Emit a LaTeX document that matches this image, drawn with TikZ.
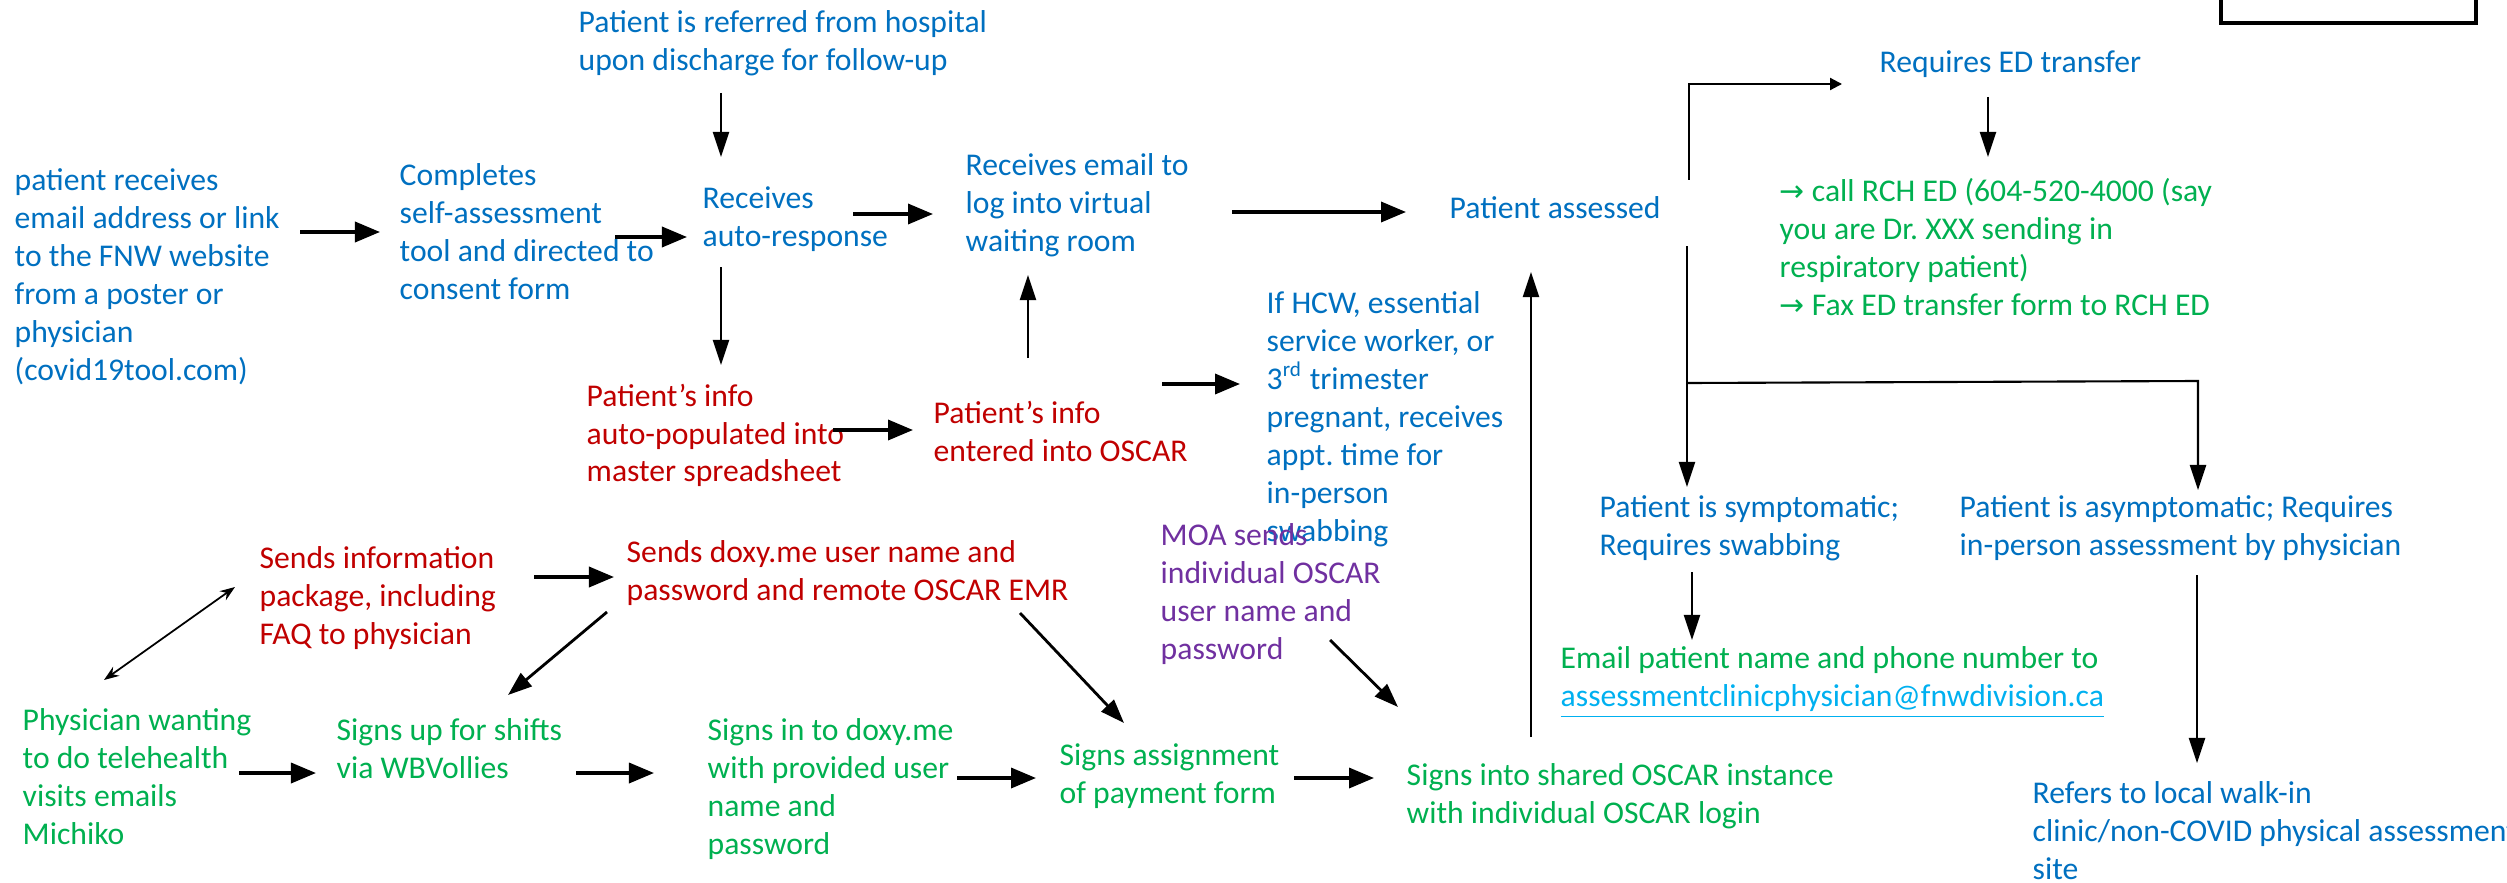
\documentclass[tikz,border=0pt]{standalone}
\usepackage{fontspec}
\setmainfont{Carlito}
\newfontfamily\arrowfont{DejaVu Sans}
\usetikzlibrary{arrows.meta}
\definecolor{tblue}{HTML}{0070C0}
\definecolor{tred}{HTML}{C00000}
\definecolor{tgreen}{HTML}{00B050}
\definecolor{tpurple}{HTML}{7030A0}
\definecolor{tlink}{HTML}{00B0F0}
\newcommand{\ra}{{\arrowfont\fontsize{8.5}{10.8}\selectfont →}}
\tikzset{
  txt/.style={inner sep=0pt, anchor=north west, align=left, yshift=-0.03cm, font=\fontsize{9}{10.8}\selectfont},
  bluet/.style={txt, text=tblue},
  redt/.style={txt, text=tred},
  greent/.style={txt, text=tgreen},
  purplet/.style={txt, text=tpurple},
  bigarrow/.style={line width=1pt, -{Triangle[length=0.25cm,width=0.2cm]}},
  midarrow/.style={line width=0.8pt, -{Triangle[length=0.24cm,width=0.17cm]}},
  thinarrow/.style={line width=0.6pt, -{Triangle[length=0.25cm,width=0.16cm]}},
  smallarrow/.style={line width=0.6pt, -{Triangle[length=0.12cm,width=0.12cm]}},
  dblarrow/.style={line width=0.5pt, {Stealth[length=0.15cm,width=0.11cm]}-{Stealth[length=0.15cm,width=0.11cm]}},
  plainline/.style={line width=0.6pt}
}
\begin{document}
\begin{tikzpicture}[x=0.01cm, y=-0.01cm]
\useasboundingbox (0,0) rectangle (2507,882);
\clip (0,0) rectangle (2507,882);

% top-right box
\draw[line width=1pt] (2221,-10) rectangle (2476,23);
\node[inner sep=0pt] (topbox) at (2348,5) {};

% text nodes
\node[bluet] (src) at (14,165) {patient receives\\email address or link\\to the FNW website\\from a poster or\\physician\\(covid19tool.com)};
\node[bluet] (selfassess) at (399,160) {Completes\\self-assessment\\tool and directed to\\consent form};
\node[bluet] (referred) at (578,7) {Patient is referred from hospital\\upon discharge for follow-up};
\node[bluet] (autoresp) at (702,183) {Receives\\auto-response};
\node[bluet] (waiting) at (965,150) {Receives email to\\log into virtual\\waiting room};
\node[redt] (populated) at (586,380) {Patient’s info\\auto-populated into\\master spreadsheet};
\node[redt] (entered) at (933,397) {Patient’s info\\entered into OSCAR};
\node[bluet] (hcw) at (1266,288) {If HCW, essential\\service worker, or\\3\textsuperscript{rd} trimester\\pregnant, receives\\appt.\ time for\\in-person\\swabbing};
\node[bluet] (assessed) at (1449,193) {Patient assessed};
\node[bluet] (edtransfer) at (1879,47) {Requires ED transfer};
\node[greent] (rch) at (1779,175) {\ra\ call RCH ED (604-520-4000 (say\\you are Dr.\ XXX sending in\\respiratory patient)\\\ra\ Fax ED transfer form to RCH ED};
\node[bluet] (symptomatic) at (1599,492) {Patient is symptomatic;\\Requires swabbing};
\node[bluet] (asymptomatic) at (1959,492) {Patient is asymptomatic; Requires\\in-person assessment by physician};
\node[greent] (emailpt) at (1560,643) {Email patient name and phone number to\\\textcolor{tlink}{\underline{assessmentclinicphysician@fnwdivision.ca}}};
\node[bluet] (walkin) at (2032,778) {Refers to local walk-in\\clinic/non-COVID physical assessment\\site};
\node[redt] (infopkg) at (259,543) {Sends information\\package, including\\FAQ to physician};
\node[redt] (doxysend) at (626,537) {Sends doxy.me user name and\\password and remote OSCAR EMR};
\node[purplet] (moa) at (1160,520) {MOA sends\\individual OSCAR\\user name and\\password};
\node[greent] (physician) at (22,705) {Physician wanting\\to do telehealth\\visits emails\\Michiko};
\node[greent] (shifts) at (336,715) {Signs up for shifts\\via WBVollies};
\node[greent] (doxyin) at (707,715) {Signs in to doxy.me\\with provided user\\name and\\password};
\node[greent] (payment) at (1059,740) {Signs assignment\\of payment form};
\node[greent] (shared) at (1406,760) {Signs into shared OSCAR instance\\with individual OSCAR login};

% connector end points
\coordinate (a1s) at (300,232);   \coordinate (a1e) at (380,232);
\coordinate (a2s) at (615,237);   \coordinate (a2e) at (687,237);
\coordinate (a3s) at (721,93);    \coordinate (a3e) at (721,157);
\coordinate (a4s) at (853,214);   \coordinate (a4e) at (933,214);
\coordinate (a5s) at (721,267);   \coordinate (a5e) at (721,365);
\coordinate (a6s) at (833,430);   \coordinate (a6e) at (913,430);
\coordinate (a7s) at (1028,358);  \coordinate (a7e) at (1028,275);
\coordinate (a8s) at (1232,212);  \coordinate (a8e) at (1406,212);
\coordinate (a9s) at (1162,384);  \coordinate (a9e) at (1240,384);
\coordinate (a10s) at (1689,180); \coordinate (a10m) at (1689,84); \coordinate (a10e) at (1842,84);
\coordinate (a11s) at (1988,97);  \coordinate (a11e) at (1988,157);
\coordinate (a12s) at (1687,246); \coordinate (a12e) at (1687,487);
\coordinate (b1s) at (1687,383);  \coordinate (b1m) at (2198,381); \coordinate (b1e) at (2198,490);
\coordinate (a13s) at (1692,572); \coordinate (a13e) at (1692,640);
\coordinate (a14s) at (2197,575); \coordinate (a14e) at (2197,763);
\coordinate (a15s) at (1531,737); \coordinate (a15e) at (1531,272);
\coordinate (a16s) at (1330,640); \coordinate (a16e) at (1398,707);
\coordinate (a17s) at (1294,778); \coordinate (a17e) at (1374,778);
\coordinate (a18s) at (1020,613); \coordinate (a18e) at (1124,723);
\coordinate (a19s) at (607,612);  \coordinate (a19e) at (508,695);
\coordinate (a20s) at (534,577);  \coordinate (a20e) at (614,577);
\coordinate (a21s) at (235,587);  \coordinate (a21e) at (104,680);
\coordinate (a22s) at (239,773);  \coordinate (a22e) at (316,773);
\coordinate (a23s) at (576,773);  \coordinate (a23e) at (654,773);
\coordinate (a24s) at (957,778);  \coordinate (a24e) at (1036,778);

% connectors
\draw[bigarrow] (a1s) -- (a1e);
\draw[bigarrow] (a2s) -- (a2e);
\draw[thinarrow] (a3s) -- (a3e);
\draw[bigarrow] (a4s) -- (a4e);
\draw[thinarrow] (a5s) -- (a5e);
\draw[bigarrow] (a6s) -- (a6e);
\draw[thinarrow] (a7s) -- (a7e);
\draw[bigarrow] (a8s) -- (a8e);
\draw[bigarrow] (a9s) -- (a9e);
\draw[smallarrow] (a10s) -- (a10m) -- (a10e);
\draw[thinarrow] (a11s) -- (a11e);
\draw[thinarrow] (a12s) -- (a12e);
\draw[thinarrow] (b1s) -- (b1m) -- (b1e);
\draw[thinarrow] (a13s) -- (a13e);
\draw[thinarrow] (a14s) -- (a14e);
\draw[thinarrow] (a15s) -- (a15e);
\draw[midarrow] (a16s) -- (a16e);
\draw[bigarrow] (a17s) -- (a17e);
\draw[midarrow] (a18s) -- (a18e);
\draw[midarrow] (a19s) -- (a19e);
\draw[bigarrow] (a20s) -- (a20e);
\draw[dblarrow] (a21s) -- (a21e);
\draw[bigarrow] (a22s) -- (a22e);
\draw[bigarrow] (a23s) -- (a23e);
\draw[bigarrow] (a24s) -- (a24e);
\end{tikzpicture}
\end{document}
